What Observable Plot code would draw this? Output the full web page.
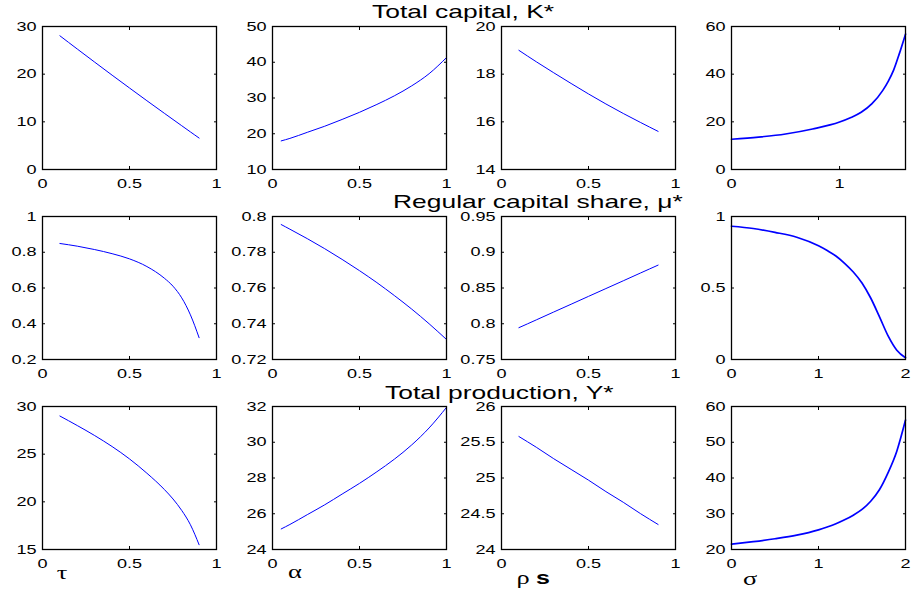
<!DOCTYPE html>
<html><head><meta charset="utf-8">
<script src="https://cdn.jsdelivr.net/npm/d3@7"></script>
<script src="https://cdn.jsdelivr.net/npm/@observablehq/plot@0.6"></script>
<style>
body{margin:0;background:#fff;}
#fig{position:relative;width:911px;height:595px;overflow:hidden;background:#fff;}
#fig svg{position:absolute;overflow:visible;}
</style></head><body><div id="fig"></div>
<script>
// ---------- data ----------
const rowTitles = ["Total capital, K*", "Regular capital share, \u03bc*", "Total production, Y*"];
const xLabels = ["\u03c4", "\u03b1", "\u03c1", "\u03c3"];

const tau   = [0.1, 0.2, 0.3, 0.4, 0.5, 0.6, 0.7, 0.75, 0.8, 0.85, 0.9];
const alpha = [0.05, 0.1, 0.2, 0.3, 0.4, 0.5, 0.6, 0.7, 0.8, 0.9, 1.0];
const rhoS  = [0.1, 0.2, 0.3, 0.4, 0.5, 0.6, 0.7, 0.8, 0.9];
const sigmaK = [0, 0.25, 0.5, 0.75, 1.0, 1.1, 1.2, 1.3, 1.4, 1.45, 1.5, 1.55, 1.61];
const sigma = [0, 0.25, 0.5, 0.75, 1.0, 1.1, 1.2, 1.3, 1.4, 1.5, 1.6, 1.7, 1.8, 1.9, 2.0];

const K_tau   = [28.05, 25.27, 22.52, 19.79, 17.1, 14.43, 11.8, 10.49, 9.19, 7.89, 6.6];
const K_alpha = [18.0, 18.7, 20.4, 22.1, 24.0, 26.0, 28.2, 30.6, 33.4, 36.8, 41.3];
const K_rho   = [19.0, 18.52, 18.06, 17.61, 17.17, 16.75, 16.35, 15.97, 15.6];
const K_sigma = [12.7, 13.6, 14.9, 17.0, 19.9, 21.7, 24.0, 27.6, 33.2, 37.0, 41.7, 48.2, 56.8];

const mu_tau   = [0.849, 0.834, 0.815, 0.792, 0.763, 0.72, 0.655, 0.61, 0.545, 0.45, 0.322];
const mu_alpha = [0.7955, 0.7929, 0.7876, 0.782, 0.776, 0.7697, 0.763, 0.7558, 0.7482, 0.74, 0.7312];
const mu_rho   = [0.7945, 0.8054, 0.8164, 0.8273, 0.8383, 0.8492, 0.8601, 0.8711, 0.882];
const mu_sigma = [0.932, 0.916, 0.889, 0.855, 0.795, 0.762, 0.724, 0.673, 0.612, 0.535, 0.43, 0.30, 0.165, 0.065, 0.012];

const Y_tau   = [29.0, 28.0, 26.95, 25.8, 24.5, 23.0, 21.3, 20.3, 19.1, 17.6, 15.5];
const Y_alpha = [25.15, 25.4, 25.95, 26.5, 27.1, 27.7, 28.35, 29.05, 29.85, 30.8, 31.95];
const Y_rho   = [25.58, 25.43, 25.27, 25.12, 24.97, 24.81, 24.66, 24.5, 24.35];
const Y_sigma = [21.5, 22.2, 23.0, 24.0, 25.5, 26.3, 27.2, 28.3, 29.6, 31.2, 33.5, 36.7, 41.5, 47.5, 56.2];

const ticks01 = [0, 0.5, 1];
const ticksSigmaK = [0, 1];
const ticksSigma = [0, 1, 2];

const yTicks = [
  [[0,10,20,30], [10,20,30,40,50], [14,16,18,20], [0,20,40,60]],
  [[0.2,0.4,0.6,0.8,1], [0.72,0.74,0.76,0.78,0.8], [0.75,0.8,0.85,0.9,0.95], [0,0.5,1]],
  [[15,20,25,30], [24,26,28,30,32], [24,24.5,25,25.5,26], [20,30,40,50,60]]
];

// ---------- panels ----------
const panels = [
  [
    {x: tau, y: K_tau, xd: [0,1], xt: ticks01},
    {x: alpha, y: K_alpha, xd: [0,1], xt: ticks01},
    {x: rhoS, y: K_rho, xd: [0,1], xt: ticks01},
    {x: sigmaK, y: K_sigma, xd: [0,1.61], xt: ticksSigmaK, sw: 1.7}
  ],
  [
    {x: tau, y: mu_tau, xd: [0,1], xt: ticks01},
    {x: alpha, y: mu_alpha, xd: [0,1], xt: ticks01},
    {x: rhoS, y: mu_rho, xd: [0,1], xt: ticks01},
    {x: sigma, y: mu_sigma, xd: [0,2], xt: ticksSigma, sw: 1.7}
  ],
  [
    {x: tau, y: Y_tau, xd: [0,1], xt: ticks01},
    {x: alpha, y: Y_alpha, xd: [0,1], xt: ticks01},
    {x: rhoS, y: Y_rho, xd: [0,1], xt: ticks01},
    {x: sigma, y: Y_sigma, xd: [0,2], xt: ticksSigma, sw: 1.7}
  ]
];

const STRETCH = 1.39;
const colLeft = [42, 272, 501, 731];
const rowTop = [26, 216, 406];
const IW = 174, IH = 143, ML = 40, MR = 8, MT = 6, MB = 34;
const fig = document.getElementById("fig");

function stretchTexts(root) {
  root.querySelectorAll("text").forEach(t => {
    if (!t.textContent) return;
    const len = t.getComputedTextLength();
    if (len > 0) {
      t.setAttribute("textLength", (len * STRETCH).toFixed(2));
      t.setAttribute("lengthAdjust", "spacingAndGlyphs");
    }
  });
}

panels.forEach((row, r) => row.forEach((p, c) => {
  const data = p.x.map((x, i) => ({x, y: p.y[i]}));
  const yt = yTicks[r][c];
  const yd = [yt[0], yt[yt.length - 1]];
  const chart = Plot.plot({
    width: ML + IW + MR, height: MT + IH + MB,
    marginLeft: ML, marginRight: MR, marginTop: MT, marginBottom: MB,
    x: {domain: p.xd, label: null},
    y: {domain: yd, label: null},
    style: {fontFamily: "'Liberation Sans', Arial, sans-serif", fontSize: "13px", color: "black", background: "transparent", overflow: "visible"},
    marks: [
      Plot.axisY({ticks: yt, tickSize: 0, tickPadding: 6, tickFormat: String, label: null, fill: "black"}),
      Plot.axisX({ticks: p.xt, tickSize: 0, tickPadding: 9, tickFormat: String, label: null, fill: "black"}),
      Plot.axisY({ticks: yt, anchor: "left", tickSize: -3, fill: "none", tickFormat: () => "", label: null}),
      Plot.axisY({ticks: yt, anchor: "right", tickSize: -3, fill: "none", tickFormat: () => "", label: null}),
      Plot.axisX({ticks: p.xt, anchor: "bottom", tickSize: -3, fill: "none", tickFormat: () => "", label: null}),
      Plot.axisX({ticks: p.xt, anchor: "top", tickSize: -3, fill: "none", tickFormat: () => "", label: null}),
      Plot.line(data, {x: "x", y: "y", stroke: "#0000ff", strokeWidth: p.sw || 1, curve: "monotone-x"}),
      Plot.frame({stroke: "black", strokeWidth: 1.3})
    ]
  });
  chart.style.left = (colLeft[c] - ML) + "px";
  chart.style.top = (rowTop[r] - MT) + "px";
  fig.appendChild(chart);
  stretchTexts(chart);
}));

// ---------- overlay: titles and x labels ----------
const ov = d3.create("svg").attr("width", 911).attr("height", 595)
  .style("left", "0px").style("top", "0px").style("pointer-events", "none");
const titleX = [372, 393, 385];
const titleY = [18, 208, 399];
rowTitles.forEach((t, i) => {
  ov.append("text").attr("x", titleX[i]).attr("y", titleY[i])
    .attr("font-family", "'Liberation Sans', Arial, sans-serif").attr("font-size", 19)
    .attr("fill", "black").text(t);
});
const labX = [62, 295, 523, 750];
const labY = [579, 578, 584, 585];
xLabels.forEach((t, i) => {
  ov.append("text").attr("x", labX[i]).attr("y", labY[i]).attr("text-anchor", "middle")
    .attr("font-family", "'Liberation Serif', 'DejaVu Serif', serif").attr("font-size", 19)
    .attr("fill", "black").text(t);
});
ov.append("text").attr("x", 543).attr("y", 584).attr("text-anchor", "middle")
  .attr("font-family", "'Liberation Sans', Arial, sans-serif").attr("font-size", 18)
  .attr("font-weight", "bold").attr("fill", "black").text("s");
fig.appendChild(ov.node());
stretchTexts(ov.node());
</script>
</body></html>
